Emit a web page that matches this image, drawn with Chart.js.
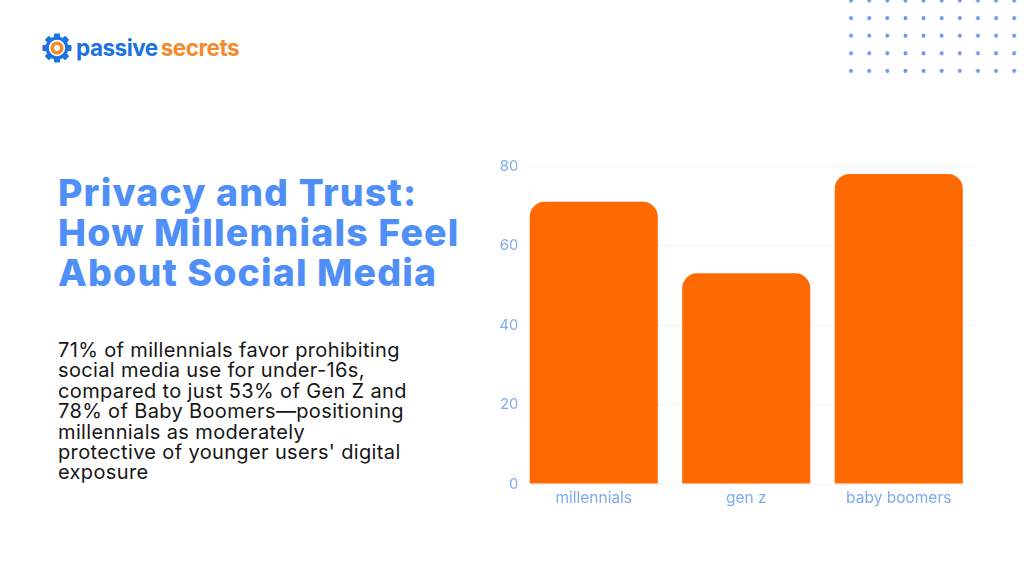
<!DOCTYPE html>
<html>
<head>
<meta charset="utf-8">
<script src="https://cdn.jsdelivr.net/npm/chart.js@4"></script>
<style>
  html, body { margin: 0; padding: 0; background: #fff; }
  body { position: relative; width: 1024px; height: 576px; overflow: hidden; font-family: Inter, sans-serif; }
  .abs { position: absolute; white-space: nowrap; }
  #title { left: 58px; top: 173px; font-size: 37.5px; line-height: 40px; font-weight: 800; letter-spacing: 1.15px; color: #4f8ff7; }
  #body { left: 58px; top: 340px; font-size: 20px; line-height: 20.4px; letter-spacing: 0.36px; color: #161616; }
  #logo { left: 76px; top: 33px; font-size: 22.5px; line-height: 30px; font-weight: 700; letter-spacing: -0.5px; }
  #logo .a { color: #1a73e0; }
  #logo .b { color: #f58a2c; margin-left: 3px; }
  #gear { left: 42px; top: 33px; }
  #dots {
    left: 842px; top: 0; width: 182px; height: 74px;
    background-image: radial-gradient(circle, #6f97e6 1.7px, transparent 2.2px);
    background-size: 18.13px 17.6px;
    background-position: 0 -8.3px;
  }
  #chart { position: absolute; left: 490px; top: 150px; }
</style>
</head>
<body>
<svg id="gear" class="abs" width="30" height="30" viewBox="0 0 30 30">
  <g fill="#1a73e0">
    <circle cx="15" cy="15" r="11.5"/>
    <rect x="12" y="0.5" width="6" height="29" rx="1"/>
    <rect x="12" y="0.5" width="6" height="29" rx="1" transform="rotate(45 15 15)"/>
    <rect x="12" y="0.5" width="6" height="29" rx="1" transform="rotate(90 15 15)"/>
    <rect x="12" y="0.5" width="6" height="29" rx="1" transform="rotate(135 15 15)"/>
  </g>
  <circle cx="15" cy="15" r="8.2" fill="#fff"/>
  <circle cx="15" cy="15" r="6.6" fill="#f58a2c"/>
  <circle cx="15" cy="15" r="3" fill="#fff"/>
</svg>
<div id="logo" class="abs"><span class="a">passive</span><span class="b">secrets</span></div>
<div id="dots" class="abs"></div>

<div id="title" class="abs">Privacy and Trust:<br>How Millennials Feel<br>About Social Media</div>
<div id="body" class="abs">71% of millennials favor prohibiting<br>social media use for under-16s,<br>compared to just 53% of Gen Z and<br>78% of Baby Boomers—positioning<br>millennials as moderately<br>protective of younger users' digital<br>exposure</div>

<canvas id="chart" width="500" height="370"></canvas>

<script>
const categories = ['millennials', 'gen z', 'baby boomers'];
const values = [71, 53, 78];
const yTicks = [0, 20, 40, 60, 80];

const tickColor = '#7fabee';

new Chart(document.getElementById('chart').getContext('2d'), {
  type: 'bar',
  data: {
    labels: categories,
    datasets: [
      {
        label: 'favor prohibiting',
        data: values,
        backgroundColor: '#ff6a00',
        borderRadius: { topLeft: 15, topRight: 15, bottomLeft: 0, bottomRight: 0 },
        borderSkipped: false,
        barPercentage: 1,
        categoryPercentage: 0.84,
      },
    ],
  },
  options: {
    responsive: false,
    animation: false,
    layout: { padding: { top: 16, right: 15, bottom: 0, left: 0 } },
    plugins: { legend: { display: false }, tooltip: { enabled: false } },
    scales: {
      x: {
        grid: { display: false, drawTicks: false },
        border: { display: false },
        ticks: { color: tickColor, font: { family: 'Inter', size: 15.5 }, padding: 5, maxRotation: 0 },
        afterFit(scale) { scale.height = 36; },
      },
      y: {
        min: 0,
        max: 80,
        afterBuildTicks(scale) { scale.ticks = yTicks.map(value => ({ value })); },
        grid: { color: '#f3f4f6', drawTicks: false },
        border: { display: false, dash: [0, 12.5, 470, 0] },
        ticks: { color: tickColor, font: { family: 'Inter', size: 15 }, padding: -1 },
        afterFit(scale) { scale.width = 27.5; },
      },
    },
  },
});
</script>
</body>
</html>
